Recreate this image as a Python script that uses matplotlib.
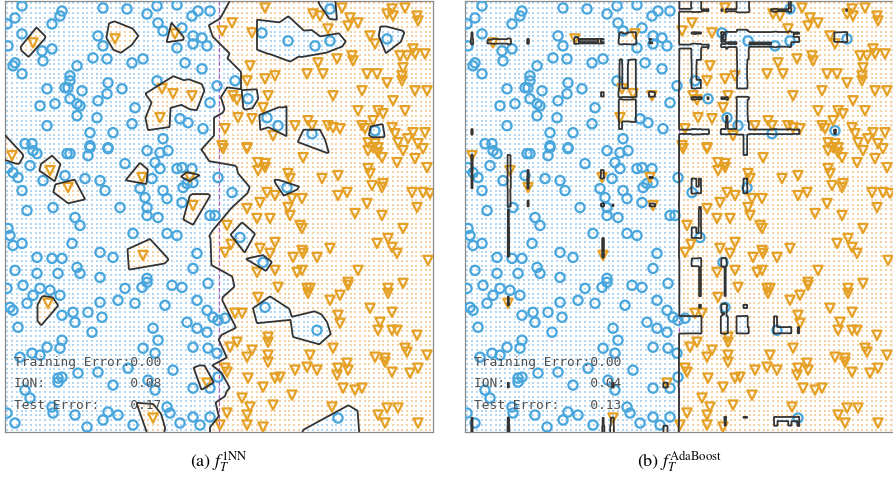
import numpy as np
import matplotlib.pyplot as plt

plt.rcParams['mathtext.fontset'] = 'stix'

# training points, in panel pixel units (x from the left edge, y downwards)
blue_pts = [
    (22, 5), (15, 17), (7, 23), (22, 33), (8, 45), (62, 10), (60, 15), (52, 23), (103, 7), (127, 8),
    (147, 13), (157, 5), (177, 4), (158, 22), (163, 30), (182, 27), (192, 15), (198, 10), (210, 10),
    (193, 35), (202, 37), (193, 43), (207, 45), (177, 47), (98, 35), (103, 45), (42, 50), (52, 48),
    (43, 60), (15, 62), (13, 65), (22, 73), (77, 65), (93, 57), (107, 58), (132, 62), (143, 58),
    (185, 62), (202, 68), (70, 75), (70, 80), (65, 87), (68, 87), (47, 88), (82, 90), (108, 82),
    (107, 93), (122, 88), (157, 80), (70, 98), (55, 103), (40, 105), (77, 103), (80, 105), (98, 100),
    (135, 107), (77, 115), (97, 117), (47, 125), (90, 132), (113, 132), (132, 123), (180, 118),
    (188, 122), (203, 128), (210, 102), (163, 138), (25, 143), (32, 143), (90, 145), (108, 147),
    (330, 8), (262, 32), (288, 40), (315, 45), (330, 40), (387, 38), (235, 80), (217, 85), (248, 98),
    (267, 117), (278, 125), (312, 133), (375, 130),
    (33, 150), (37, 153), (67, 153), (70, 153), (88, 155), (90, 147), (108, 148), (147, 150), (160, 152),
    (168, 150), (155, 162), (160, 168), (177, 168), (182, 167), (192, 168), (8, 167), (13, 172),
    (18, 177), (30, 165), (43, 180), (65, 175), (85, 178), (100, 180), (105, 190), (125, 163),
    (152, 178), (140, 188), (145, 197), (163, 190), (167, 198), (183, 187), (187, 183), (193, 182),
    (182, 202), (22, 190), (27, 210), (53, 207), (75, 217), (80, 225), (120, 207), (147, 207),
    (147, 215), (158, 217), (210, 215), (8, 228), (10, 235), (13, 245), (22, 243), (72, 243),
    (100, 252), (113, 257), (133, 233), (167, 233), (177, 235), (197, 253), (193, 268), (37, 257),
    (52, 258), (62, 258), (15, 270), (37, 273), (58, 273), (77, 267), (80, 273), (100, 277),
    (147, 278), (147, 282), (23, 285), (40, 288), (50, 290), (125, 288), (142, 287), (172, 285),
    (182, 287), (208, 283), (7, 288),
    (218, 177), (232, 192), (287, 187), (240, 237), (263, 262), (215, 215),
    (10, 307), (13, 310), (27, 303), (33, 295), (60, 295), (62, 315), (73, 312), (75, 322), (88, 312),
    (100, 302), (102, 317), (118, 300), (135, 303), (165, 305), (197, 300), (187, 322), (197, 328),
    (207, 332), (207, 310), (213, 317), (18, 327), (92, 332), (153, 328), (62, 340), (60, 348),
    (47, 347), (158, 340), (143, 348), (155, 353), (193, 347), (208, 348), (20, 357), (32, 353),
    (40, 355), (78, 373), (98, 372), (128, 368), (173, 370), (58, 378), (62, 377), (58, 382),
    (25, 390), (30, 398), (148, 380), (155, 390), (113, 385), (193, 388), (210, 388), (167, 407),
    (170, 413), (108, 412), (118, 415), (103, 420), (7, 413), (52, 407), (53, 413), (75, 415),
    (87, 427), (133, 425), (180, 423), (193, 417), (200, 425), (210, 417), (15, 423),
    (265, 307), (317, 330), (225, 318), (218, 320), (217, 353), (218, 377), (338, 418),
]

orange_pts = [
    (33, 42), (115, 38), (175, 33), (162, 88), (173, 93), (192, 95), (160, 117),
    (265, 7), (232, 22), (222, 30), (252, 32), (313, 13), (320, 15), (342, 7), (350, 17),
    (358, 22), (348, 25), (328, 28), (370, 35), (375, 43), (387, 13), (392, 8), (393, 15), (405, 7),
    (417, 15), (418, 20), (318, 62), (337, 58), (352, 55), (353, 60), (400, 55), (407, 55), (413, 48),
    (415, 53), (425, 53), (403, 67), (402, 75), (250, 65), (265, 78), (275, 75), (247, 80), (307, 73),
    (323, 73), (367, 73), (377, 73), (387, 82), (402, 80), (362, 90), (415, 90), (427, 90), (233, 95),
    (237, 99), (268, 95), (263, 107), (333, 95), (393, 100), (358, 110), (378, 110), (383, 113),
    (405, 110), (238, 117), (252, 118), (225, 128), (295, 125), (308, 120), (312, 125), (328, 125),
    (333, 127), (340, 128), (362, 125), (365, 128), (373, 120), (392, 127), (395, 133), (413, 132),
    (425, 132), (273, 135), (222, 145), (247, 147), (368, 142), (375, 143), (378, 147), (398, 142),
    (408, 138), (418, 143),
    (12, 155), (50, 170), (68, 187), (142, 177), (190, 177), (193, 205), (143, 255),
    (223, 148), (247, 148), (303, 157), (258, 162), (265, 163), (258, 170), (265, 167), (288, 173),
    (290, 178), (322, 178), (338, 175), (368, 150), (378, 152), (382, 157), (373, 147), (403, 150),
    (415, 158), (423, 148), (397, 162), (427, 167), (368, 168), (370, 173), (372, 185), (383, 183),
    (382, 187), (267, 192), (275, 195), (292, 198), (302, 198), (260, 202), (247, 208), (288, 207),
    (290, 215), (338, 195), (347, 192), (367, 203), (355, 213), (382, 215), (412, 192), (423, 192),
    (430, 193), (417, 207), (403, 228), (227, 225), (257, 218), (270, 218), (300, 225), (302, 228),
    (231, 244), (225, 252), (260, 248), (275, 242), (270, 253), (302, 250), (303, 253), (293, 257),
    (317, 257), (330, 248), (377, 243), (388, 238), (392, 247), (397, 253), (428, 260), (257, 272),
    (275, 270), (297, 272), (302, 270), (358, 270), (348, 282), (348, 285), (403, 283), (278, 287),
    (307, 288), (310, 288), (388, 288),
    (48, 303), (207, 383), (153, 418),
    (258, 297), (308, 293), (330, 300), (340, 295), (388, 293), (370, 308), (392, 312), (235, 313),
    (242, 313), (338, 315), (340, 323), (380, 322), (378, 330), (392, 330), (397, 330), (417, 335),
    (268, 337), (268, 342), (237, 342), (230, 347), (252, 350), (247, 357), (268, 355), (268, 362),
    (310, 355), (333, 348), (375, 357), (385, 358), (385, 362), (405, 348), (407, 352), (427, 355),
    (225, 368), (227, 372), (307, 367), (317, 370), (295, 370), (347, 363), (348, 370), (338, 368),
    (337, 375), (392, 372), (410, 373), (418, 368), (248, 378), (263, 387), (275, 378), (280, 377),
    (343, 388), (355, 390), (362, 388), (292, 395), (242, 398), (250, 407), (247, 415), (247, 425),
    (227, 413), (220, 425), (273, 405), (263, 427), (332, 407), (378, 415), (387, 408), (385, 423),
    (398, 408), (418, 423),
]

panel_titles = [r'(a) $f_T^{\mathrm{1NN}}$', r'(b) $f_T^{\mathrm{AdaBoost}}$']
ion_values = [0.08, 0.04]
test_errors = [0.17, 0.13]
train_errors = [0.00, 0.00]

xmin, xmax, ymin, ymax = 5, 433, 0, 432
c_blue = '#48a6dd'
c_orange = '#e5a026'
dot_blue = '#b3d7f0'
dot_orange = '#f4d19f'

X = np.array(blue_pts + orange_pts, dtype=float)
lab = np.r_[-np.ones(len(blue_pts)), np.ones(len(orange_pts))]

gx = np.linspace(xmin, xmax, 520)
gy = np.linspace(ymin, ymax, 520)
GX, GY = np.meshgrid(gx, gy)
dx = np.linspace(xmin + 2.5, xmax - 2.5, 91)
dy = np.linspace(ymin + 2.5, ymax - 2.5, 92)
DX, DY = np.meshgrid(dx, dy)


# ---- 1NN field: distance to nearest blue minus distance to nearest orange
def min_dist(P, A, B):
    d = np.full(A.shape, np.inf)
    for px, py in P:
        d = np.minimum(d, (A - px) ** 2 + (B - py) ** 2)
    return np.sqrt(d)


def nn_field(A, B):
    return min_dist(blue_pts, A, B) - min_dist(orange_pts, A, B)


# ---- AdaBoost with depth-2 trees
def best_stump(Xs, ys, ws, allow_const=True):
    tp = ws[ys == 1].sum()
    tn = ws[ys == -1].sum()
    best = (np.inf, 0, -np.inf, 1)
    if allow_const:
        best = min(best, (tn, 0, -np.inf, 1), (tp, 0, -np.inf, -1))
    for j in range(2):
        o = np.argsort(Xs[:, j], kind='stable')
        xs, yy, ww = Xs[o, j], ys[o], ws[o]
        if len(xs) < 2:
            continue
        cp = np.cumsum(ww * (yy == 1))
        cn = np.cumsum(ww * (yy == -1))
        ok = np.nonzero(xs[:-1] < xs[1:])[0]
        if len(ok) == 0:
            continue
        e_pos = cp[ok] + (tn - cn[ok])
        e_neg = cn[ok] + (tp - cp[ok])
        k1, k2 = np.argmin(e_pos), np.argmin(e_neg)
        t1 = (xs[ok[k1]] + xs[ok[k1] + 1]) / 2
        t2 = (xs[ok[k2]] + xs[ok[k2] + 1]) / 2
        best = min(best, (e_pos[k1], j, t1, 1), (e_neg[k2], j, t2, -1))
    return best


def stump_pred(st, A, B):
    _, j, thr, pol = st
    v = A if j == 0 else B
    return np.where(v > thr, pol, -pol)


def tree_pred(tree, A, B):
    root, left, right = tree
    v = A if root[1] == 0 else B
    return np.where(v <= root[2], stump_pred(left, A, B), stump_pred(right, A, B))


w = np.ones(len(lab)) / len(lab)
trees, alphas = [], []
for t in range(250):
    root = best_stump(X, lab, w, allow_const=False)
    m = X[:, root[1]] <= root[2]
    left = best_stump(X[m], lab[m], w[m])
    right = best_stump(X[~m], lab[~m], w[~m])
    tree = (root, left, right)
    p = tree_pred(tree, X[:, 0], X[:, 1])
    err = np.clip(w[p != lab].sum() / w.sum(), 1e-10, 1 - 1e-10)
    a = 0.5 * np.log((1 - err) / err)
    trees.append(tree)
    alphas.append(a)
    w = w * np.exp(-a * lab * p)
    w /= w.sum()


def ada_field(A, B):
    F = np.zeros(A.shape)
    for tr, a in zip(trees, alphas):
        F += a * tree_pred(tr, A, B)
    return F


fields = [nn_field, ada_field]

fig = plt.figure(figsize=(8.93, 4.78), dpi=100)
boxes = [[5 / 893, 46 / 478, 428 / 893, 431 / 478],
         [465 / 893, 46 / 478, 428 / 893, 431 / 478]]

for i in range(2):
    ax = fig.add_axes(boxes[i])
    f = fields[i]
    dots = f(DX, DY) > 0
    ax.scatter(DX[~dots], DY[~dots], s=1.4, marker='s', c=dot_blue, lw=0, zorder=1)
    ax.scatter(DX[dots], DY[dots], s=1.4, marker='s', c=dot_orange, lw=0, zorder=1)
    ax.axvline((xmin + xmax) / 2, color='#b45ac8', lw=0.8, ls=(0, (4, 2)), zorder=2)
    ax.scatter(X[lab < 0, 0], X[lab < 0, 1], s=44, marker='o', facecolors='none',
               edgecolors=c_blue, linewidths=1.6, zorder=3)
    ax.scatter(X[lab > 0, 0], X[lab > 0, 1], s=44, marker='v', facecolors='none',
               edgecolors=c_orange, linewidths=1.6, zorder=3)
    ax.contour(GX, GY, f(GX, GY), levels=[0], colors='#333333', linewidths=1.3, zorder=4)

    txt = ['Training Error:%.2f' % train_errors[i],
           'ION:           %.2f' % ion_values[i],
           'Test Error:    %.2f' % test_errors[i]]
    for k, s in enumerate(txt):
        ax.text(14, 362 + 21.5 * k, s, family='DejaVu Sans Mono', fontsize=9.3,
                color='#505050', va='center', ha='left', zorder=6)

    ax.set_xlim(xmin, xmax)
    ax.set_ylim(ymax, ymin)
    ax.set_xticks([])
    ax.set_yticks([])
    for sp in ax.spines.values():
        sp.set_color('#8a8a8a')
        sp.set_linewidth(0.9)

    fig.text((boxes[i][0] + boxes[i][2] / 2), 1 - 462 / 478, panel_titles[i],
             ha='center', va='center', fontsize=13, family='STIXGeneral')

fig.savefig('out.png', dpi=100)
